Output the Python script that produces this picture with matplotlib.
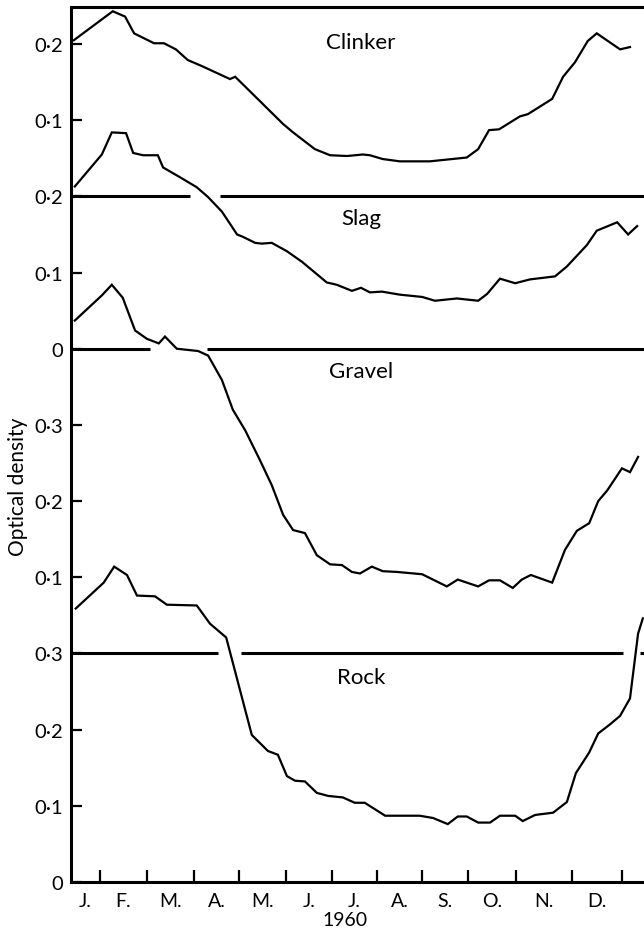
import matplotlib.pyplot as plt

plt.rcParams['font.family'] = ['Lato', 'DejaVu Sans']

# x = months from 1 Jan 1960, y = optical density
clinker_month = [0.45, 1.27, 1.53, 1.72, 2.14, 2.35, 2.60, 2.85, 3.15, 3.74, 3.85, 4.16,
                 4.86, 5.07, 5.53, 5.85, 6.21, 6.54, 6.69, 6.96, 7.32, 7.95, 8.73, 8.97,
                 9.20, 9.41, 9.85, 10.02, 10.53, 10.76, 11.01, 11.28, 11.47, 11.96, 12.17]
clinker_od = [0.205, 0.243, 0.236, 0.214, 0.201, 0.201, 0.193, 0.179, 0.171, 0.154, 0.157, 0.138,
              0.095, 0.084, 0.062, 0.054, 0.053, 0.055, 0.054, 0.049, 0.046, 0.046, 0.051, 0.062,
              0.087, 0.088, 0.105, 0.108, 0.128, 0.157, 0.176, 0.204, 0.214, 0.193, 0.196]

slag_month = [0.47, 1.04, 1.25, 1.55, 1.70, 1.91, 2.22, 2.33, 2.69, 3.04, 3.28, 3.57, 3.89, 4.01,
              4.27, 4.41, 4.62, 4.94, 5.26, 5.53, 5.78, 5.99, 6.31, 6.50, 6.69, 6.94, 7.32, 7.79,
              8.06, 8.52, 8.97, 9.16, 9.43, 9.75, 10.06, 10.59, 10.84, 11.26, 11.47, 11.90, 12.13, 12.32]
slag_od = [0.213, 0.255, 0.284, 0.283, 0.257, 0.254, 0.254, 0.238, 0.225, 0.212, 0.199, 0.180, 0.150, 0.147,
           0.139, 0.138, 0.139, 0.128, 0.114, 0.100, 0.087, 0.084, 0.076, 0.080, 0.074, 0.075, 0.071, 0.068,
           0.063, 0.066, 0.063, 0.072, 0.092, 0.086, 0.091, 0.095, 0.108, 0.136, 0.155, 0.166, 0.150, 0.161]

gravel_month = [0.47, 1.04, 1.25, 1.48, 1.74, 1.99, 2.24, 2.37, 2.62, 3.07, 3.28, 3.57, 3.80, 4.06, 4.37,
                4.62, 4.86, 5.07, 5.32, 5.57, 5.85, 6.10, 6.31, 6.48, 6.73, 6.96, 7.26, 7.79, 8.31, 8.54,
                8.97, 9.20, 9.43, 9.70, 9.89, 10.08, 10.53, 10.80, 11.05, 11.31, 11.50, 11.69, 12.00, 12.17, 12.34]
gravel_od = [0.437, 0.470, 0.484, 0.467, 0.424, 0.413, 0.407, 0.416, 0.400, 0.397, 0.391, 0.359, 0.320, 0.293, 0.254,
             0.221, 0.182, 0.162, 0.158, 0.129, 0.117, 0.116, 0.107, 0.105, 0.114, 0.108, 0.107, 0.104, 0.088, 0.097,
             0.088, 0.096, 0.096, 0.086, 0.097, 0.103, 0.093, 0.136, 0.161, 0.171, 0.200, 0.214, 0.243, 0.238, 0.258]

rock_month = [0.49, 1.08, 1.30, 1.57, 1.78, 2.16, 2.41, 3.04, 3.32, 3.66, 4.20, 4.54, 4.75, 4.94, 5.11,
              5.32, 5.57, 5.81, 6.12, 6.37, 6.58, 7.01, 7.74, 8.02, 8.33, 8.54, 8.73, 8.97, 9.22, 9.43,
              9.75, 9.91, 10.17, 10.55, 10.84, 11.03, 11.31, 11.50, 11.75, 11.96, 12.17, 12.34, 12.44]
rock_od = [0.359, 0.393, 0.414, 0.403, 0.376, 0.375, 0.364, 0.363, 0.339, 0.321, 0.193, 0.172, 0.167, 0.139, 0.133,
           0.132, 0.117, 0.113, 0.111, 0.104, 0.104, 0.087, 0.087, 0.084, 0.076, 0.086, 0.086, 0.078, 0.078, 0.087,
           0.087, 0.080, 0.088, 0.091, 0.105, 0.143, 0.170, 0.195, 0.207, 0.218, 0.241, 0.326, 0.346]

names = ["Clinker", "Slag", "Gravel", "Rock"]
months = ["J.", "F.", "M.", "A.", "M.", "J.", "J.", "A.", "S.", "O.", "N.", "D."]
# month boundaries as drawn on the original axis
month_edges = [1.0, 1.99, 2.98, 3.93, 4.92, 5.89, 6.84, 7.79, 8.76, 9.77, 10.95, 12.0]

ytick_pos = [0, 0.1, 0.2, 0.3, 0.4, 0.5, 0.6, 0.7, 0.8, 0.9, 1.0, 1.1]
ytick_lab = ["0", "0·1", "0·2", "0·3", "0·1", "0·2", "0·3", "0", "0·1", "0·2", "0·1", "0·2"]

# vertical offset of each panel in the stacked plot
offsets = {"Clinker": 0.9, "Slag": 0.7, "Gravel": 0.3, "Rock": 0.0}
label_y = {"Clinker": 1.103, "Slag": 0.872, "Gravel": 0.671, "Rock": 0.269}
# panel divider lines, broken where the curves pass through
dividers = [(0.9, [(0.39, 2.90), (3.53, 12.47)]),
            (0.7, [(0.39, 2.05), (3.26, 12.47)]),
            (0.3, [(0.39, 3.49), (3.97, 12.02), (12.38, 12.47)])]

series = {"Clinker": (clinker_month, clinker_od),
          "Slag": (slag_month, slag_od),
          "Gravel": (gravel_month, gravel_od),
          "Rock": (rock_month, rock_od)}

fig = plt.figure(figsize=(6.44, 9.29), dpi=100)
ax = fig.add_axes([71 / 644, 1 - 883 / 929, 1 - 71 / 644, 875 / 929])

for name in names:
    xs, ys = series[name]
    ax.plot(xs, [v + offsets[name] for v in ys], color="black", lw=1.6, solid_joinstyle="miter")
    ax.text(6.5, label_y[name], name, ha="center", va="center", fontsize=16)

for y, segs in dividers:
    for x0, x1 in segs:
        ax.hlines(y, x0, x1, color="black", lw=2.2, clip_on=False)

ax.set_xlim(0.39, 12.465)
ax.set_ylim(0, 1.1486)

for s in ["left", "bottom", "top"]:
    ax.spines[s].set_linewidth(2.2)
ax.spines["right"].set_visible(False)

ax.set_yticks(ytick_pos)
ax.set_yticklabels(ytick_lab)
ax.tick_params(axis="y", direction="in", length=8, width=1.6, pad=6, labelsize=14.5)

ax.set_xticks(month_edges)
ax.set_xticklabels([])
mids = [(0.39 + month_edges[0]) / 2] + [(a + b) / 2 for a, b in zip(month_edges[:-1], month_edges[1:])]
ax.set_xticks(mids, minor=True)
ax.set_xticklabels(months, minor=True)
ax.tick_params(axis="x", which="major", direction="in", length=9, width=1.6)
ax.tick_params(axis="x", which="minor", length=0, pad=7, labelsize=14)

fig.text(18 / 644, 1 - 487 / 929, "Optical density", rotation=90, ha="center", va="center", fontsize=15)
fig.text(345 / 644, 1 - 921 / 929, "1960", ha="center", va="center", fontsize=14)

fig.savefig("out.png", dpi=100)
